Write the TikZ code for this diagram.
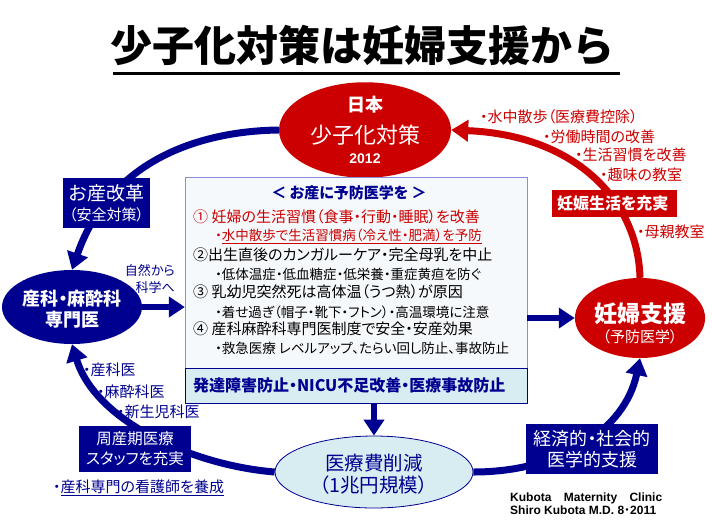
\documentclass[tikz,border=0pt]{standalone}
\usepackage{fontspec}
\setmainfont{Noto Sans CJK JP}[RawFeature=+palt]
\newfontfamily\jpfix{Noto Sans CJK JP}
\newfontfamily\latin{Liberation Sans}
\usetikzlibrary{shapes.geometric,arrows.meta,positioning}
\definecolor{kbblue}{HTML}{000090}
\definecolor{kbred}{HTML}{CC0000}
\definecolor{boxfill}{HTML}{F6F9FC}
\definecolor{boxedge}{HTML}{8C8CD8}
\definecolor{footfill}{HTML}{D8EDF1}
\tikzset{
  ell/.style={ellipse, inner sep=0pt, align=center},
  redell/.style={ell, fill=kbred, text=white},
  blueell/.style={ell, fill=kbblue, text=white},
  paleell/.style={ell, fill=footfill, draw=kbblue, thick, text=kbblue},
  bluetag/.style={fill=kbblue, text=white, inner sep=0pt, align=center},
  redtag/.style={fill=kbred, text=white, inner sep=0pt, align=center},
  bluearc/.style={draw=kbblue, line width=7pt, -{Triangle[length=17pt,width=21pt]}},
  redarc/.style={draw=kbred, line width=7pt, -{Triangle[length=17pt,width=21pt]}},
  bluearrow/.style={draw=kbblue, line width=6pt, -{Triangle[length=16pt,width=20pt]}},
  rednote/.style={anchor=west, inner sep=0pt, text=kbred, font=\fontsize{15}{18}\selectfont},
  bluenote/.style={anchor=west, inner sep=0pt, text=kbblue, font=\fontsize{15}{18}\selectfont},
  mainline/.style={anchor=west, inner sep=0pt, font=\fontsize{15}{18}\selectfont},
  subline/.style={anchor=west, inner sep=0pt, font=\fontsize{13.5}{16}\selectfont}
}
\begin{document}
\begin{tikzpicture}[x=1pt,y=-1pt]
	\useasboundingbox[fill=white] (0,0) rectangle (712,523);
	% title
	\node[inner sep=0pt, font=\jpfix\fontsize{42}{42}\selectfont\bfseries] (title) at (362,45) {少子化対策は妊婦支援から};
	\draw[line width=3pt] (113,73) -- (620,73);
	
	% ellipses
	\node[redell,
	minimum width=172pt,
	minimum height=84pt,
	font=\fontsize{18}{32}\selectfont] (japan) at (365,130) {
	{\bfseries 日本}\\{\fontsize{22}{22}\selectfont 少子化対策}\\[-12pt]{\latin\bfseries\fontsize{14}{14}\selectfont 2012}
	};
	\node[blueell,
	minimum width=126pt,
	minimum height=74pt,
	font=\fontsize{18}{21}\selectfont\bfseries] (doctor) at (72,307) {
	\rule{0pt}{20pt}産科・麻酔科\\専門医
	};
	\node[redell,
	minimum width=126pt,
	minimum height=80pt,
	font=\fontsize{23}{23}\selectfont] (support) at (640,318) {
	\rule{0pt}{30pt}{\bfseries 妊婦支援}\\[-3pt]{\fontsize{15}{15}\selectfont（予防医学）}
	};
	\node[paleell,
	minimum width=198pt,
	minimum height=72pt,
	font=\fontsize{19.5}{22}\selectfont] (cost) at (374,472) {
	\rule{0pt}{21pt}医療費削減\\（1兆円規模）
	};
	
	% centre box
	\node[draw=boxedge, fill=boxfill,
	minimum width=342pt,
	minimum height=226pt,
	inner sep=0pt] (box) at (356,290) {};
	\node[draw=kbblue, fill=footfill,
	minimum width=342pt,
	minimum height=35pt,
	text width=326pt,
	inner xsep=8pt, inner ysep=0pt,
	align=left, anchor=south,
	text=kbblue,
	font=\fontsize{16}{18}\selectfont\bfseries] (foot) at (box.south) {
	発達障害防止・NICU不足改善・医療事故防止
	};
	\node[inner sep=0pt, text=kbblue, font=\fontsize{15}{18}\selectfont\bfseries] (head) at (349,193) {＜ お産に予防医学を ＞};
	\node[mainline, text=kbred] (line1) at (193,217) {① 妊婦の生活習慣（食事・行動・睡眠）を改善};
	\node[subline, text=kbred] (sub1) at (215,236) {・\underline{水中散歩で生活習慣病（冷え性・肥満）を予防}};
	\node[mainline] (line2) at (193,255) {②出生直後のカンガルーケア・完全母乳を中止};
	\node[subline] (sub2) at (215,274) {・低体温症・低血糖症・低栄養・重症黄疸を防ぐ};
	\node[mainline] (line3) at (193,292) {③ 乳幼児突然死は高体温（うつ熱）が原因};
	\node[subline] (sub3) at (215,312) {・着せ過ぎ（帽子・靴下・フトン）・高温環境に注意};
	\node[mainline] (line4) at (193,329) {④ 産科麻酔科専門医制度で安全・安産効果};
	\node[subline] (sub4) at (215,348) {・救急医療 レベルアップ、たらい回し防止、事故防止};
	
	% arcs
	\draw[redarc] (support.north) .. controls (638,200) and (575,135) .. (japan.east);
	\draw[bluearc] (japan.west) .. controls (200,131) and (110,160) .. (doctor.north);
	\draw[bluearc] (cost.west) .. controls (190,465) and (95,420) .. (doctor.south);
	\draw[bluearc] (cost.east) .. controls (560,472) and (625,430) .. (support.south);
	
	% straight arrows
	\draw[bluearrow] (doctor.east) -- (doctor.east -| box.west);
	\draw[bluearrow] (box.east |- support.west) -- (support.west);
	\draw[bluearrow] (cost.north |- box.south) -- (cost.north);
	
	% tags on the arcs
	\node[bluetag,
	minimum width=87pt,
	minimum height=50pt,
	font=\fontsize{19}{20}\selectfont] (reform) at (106.5,203) {
	お産改革\\{\fontsize{15}{15}\selectfont（安全対策）}
	};
	\node[bluetag,
	minimum width=112pt,
	minimum height=46pt,
	font=\fontsize{15.5}{20}\selectfont] (staff) at (135,449) {
	周産期医療\\スタッフを充実
	};
	\node[bluetag,
	minimum width=132pt,
	minimum height=50pt,
	font=\fontsize{18}{21}\selectfont] (econ) at (592,449) {
	経済的・社会的\\医学的支援
	};
	\node[redtag,
	minimum width=125pt,
	minimum height=27pt,
	font=\fontsize{16}{18}\selectfont\bfseries] (life) at (614.5,203.5) {
	妊娠生活を充実
	};
	
	% notes
	\node[rednote] (walk) at (480,117) {・水中散歩（医療費控除）};
	\node[rednote] (work) at (543,137) {・労働時間の改善};
	\node[rednote] (habit) at (575,155) {・生活習慣を改善};
	\node[rednote] (hobby) at (600,175) {・趣味の教室};
	\node[rednote] (class) at (637,232) {・母親教室};
	\node[bluenote] (obst) at (83,370) {・産科医};
	\node[bluenote] (anest) at (97,392) {・麻酔科医};
	\node[bluenote] (neo) at (117,412) {・新生児科医};
	\node[bluenote] (nurse) at (53,488) {・\underline{産科専門の看護師を養成}};
	\node[anchor=east, inner sep=0pt, align=right, text=kbblue,
	font=\fontsize{13}{17}\selectfont] (science) at (175,279) {自然から\\科学へ};
	
	% credit
	\node[anchor=west, inner sep=0pt, align=left,
	font=\latin\bfseries\fontsize{12}{13}\selectfont] (credit) at (510,503.5) {
	Kubota\hspace{9pt} Maternity\hspace{9pt} Clinic\\Shiro Kubota M.D. 8{\normalfont\fontsize{12}{13}\selectfont ・}2011
	};
\end{tikzpicture}
\end{document}
